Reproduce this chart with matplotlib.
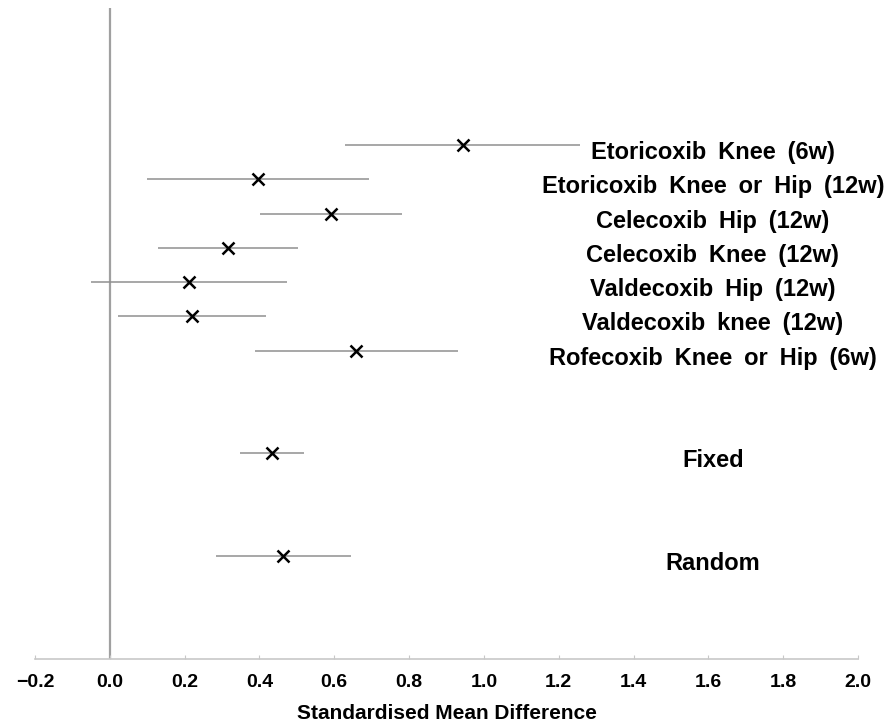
import matplotlib
matplotlib.use("Agg")
from matplotlib import pyplot as plt
import numpy as np

# studies, top to bottom, then the pooled estimates
labels = ["Etoricoxib Knee (6w)", "Etoricoxib Knee or Hip (12w)", "Celecoxib Hip (12w)",
          "Celecoxib Knee (12w)", "Valdecoxib Hip (12w)", "Valdecoxib knee (12w)",
          "Rofecoxib Knee or Hip (6w)", "Fixed", "Random"]
rows = [13, 12, 11, 10, 9, 8, 7, 4, 1]
smd = [0.944, 0.396, 0.591, 0.316, 0.212, 0.220, 0.658, 0.434, 0.463]
lower = [0.629, 0.100, 0.402, 0.129, -0.050, 0.022, 0.388, 0.348, 0.284]
upper = [1.258, 0.693, 0.781, 0.503, 0.474, 0.418, 0.931, 0.519, 0.645]

xticks = [-0.2, 0.0, 0.2, 0.4, 0.6, 0.8, 1.0, 1.2, 1.4, 1.6, 1.8, 2.0]
xticklabels = ["\u22120.2", "0.0", "0.2", "0.4", "0.6", "0.8", "1.0", "1.2", "1.4", "1.6", "1.8", "2.0"]

plt.rcParams['font.family'] = ['Liberation Sans', 'DejaVu Sans']
plt.rcParams['font.weight'] = 'bold'

fig = plt.figure(figsize=(8.84, 7.24), dpi=100)
ax = fig.add_axes([35/884., 65/724., 823/884., 651/724.])

# line of no effect
ax.axvline(0, color='#a0a0a0', lw=1.6, zorder=1)

# confidence intervals and point estimates
ax.hlines(rows, lower, upper, color='#909090', lw=1.1, zorder=2)
ax.plot(smd, rows, 'x', color='black', ms=8, mew=1.8, zorder=3)

# the original uses wide word spacing
for lab, r in zip(labels, rows):
    ax.text(1.612, r - 0.22, lab.replace(" ", "\u2002"), ha='center', va='center',
            fontsize=17, fontweight='bold')

ax.set_xlim(-0.2, 2.0)
ax.set_ylim(-2, 17)
ax.set_xticks(xticks)
ax.set_xticklabels(xticklabels, fontsize=14, fontweight='bold')
ax.set_yticks([])
ax.tick_params(axis='x', direction='in', length=3, color='#c8c8c8', pad=10.5)
ax.set_xlabel("Standardised Mean Difference", fontsize=15, fontweight='bold', labelpad=10)

for s in ['left', 'top', 'right']:
    ax.spines[s].set_visible(False)
ax.spines['bottom'].set_color('#c8c8c8')
ax.spines['bottom'].set_linewidth(1.2)

fig.savefig("out.png", dpi=100)
